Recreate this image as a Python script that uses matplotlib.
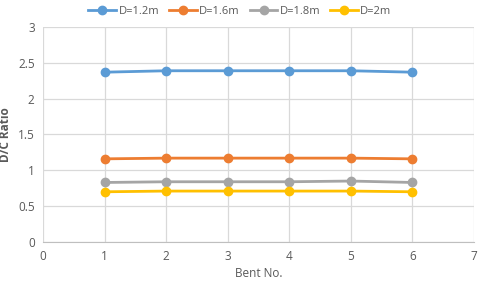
import matplotlib
matplotlib.use("Agg")
import matplotlib.pyplot as plt

bents = [1, 2, 3, 4, 5, 6]
labels = ["D=1.2m", "D=1.6m", "D=1.8m", "D=2m"]
d12 = [2.37, 2.39, 2.39, 2.39, 2.39, 2.37]
d16 = [1.16, 1.17, 1.17, 1.17, 1.17, 1.16]
d18 = [0.83, 0.84, 0.84, 0.84, 0.85, 0.83]
d20 = [0.70, 0.71, 0.71, 0.71, 0.71, 0.70]
colors = ["#5B9BD5", "#ED7D31", "#A5A5A5", "#FFC000"]

plt.rcParams['font.family'] = ['Open Sans', 'DejaVu Sans']
fig = plt.figure(figsize=(4.8, 2.88), dpi=100)
ax = fig.add_axes([0.0896, 0.16, 0.898, 0.746])

for ys, lab, c in zip([d12, d16, d18, d20], labels, colors):
    ax.plot(bents, ys, color=c, lw=2, marker='o', ms=6, label=lab)

ax.set_xlim(0, 7)
ax.set_ylim(0, 3)
ax.set_xticks(range(0, 8))
ax.set_yticks([0, 0.5, 1, 1.5, 2, 2.5, 3])
ax.set_yticklabels(["0", "0.5", "1", "1.5", "2", "2.5", "3"])
ax.grid(True, color="#D9D9D9", lw=0.9)
ax.set_axisbelow(True)
for s in ["top", "right", "left"]:
    ax.spines[s].set_visible(False)
ax.spines["bottom"].set_color("#BFBFBF")
ax.tick_params(length=0, labelsize=8.5, colors="#595959", pad=6)
ax.set_xlabel("Bent No.", fontsize=8.5, color="#595959", labelpad=3)
ax.set_ylabel("D/C Ratio", fontsize=8.5, color="#595959", fontweight="bold", labelpad=4)
leg = fig.legend(loc="upper center", bbox_to_anchor=(0.5, 1.015), ncol=4, frameon=False,
                 fontsize=8, handlelength=2.5, columnspacing=0.9, handletextpad=0.2)
for t in leg.get_texts():
    t.set_color("#595959")
fig.savefig("out.png", dpi=100)
